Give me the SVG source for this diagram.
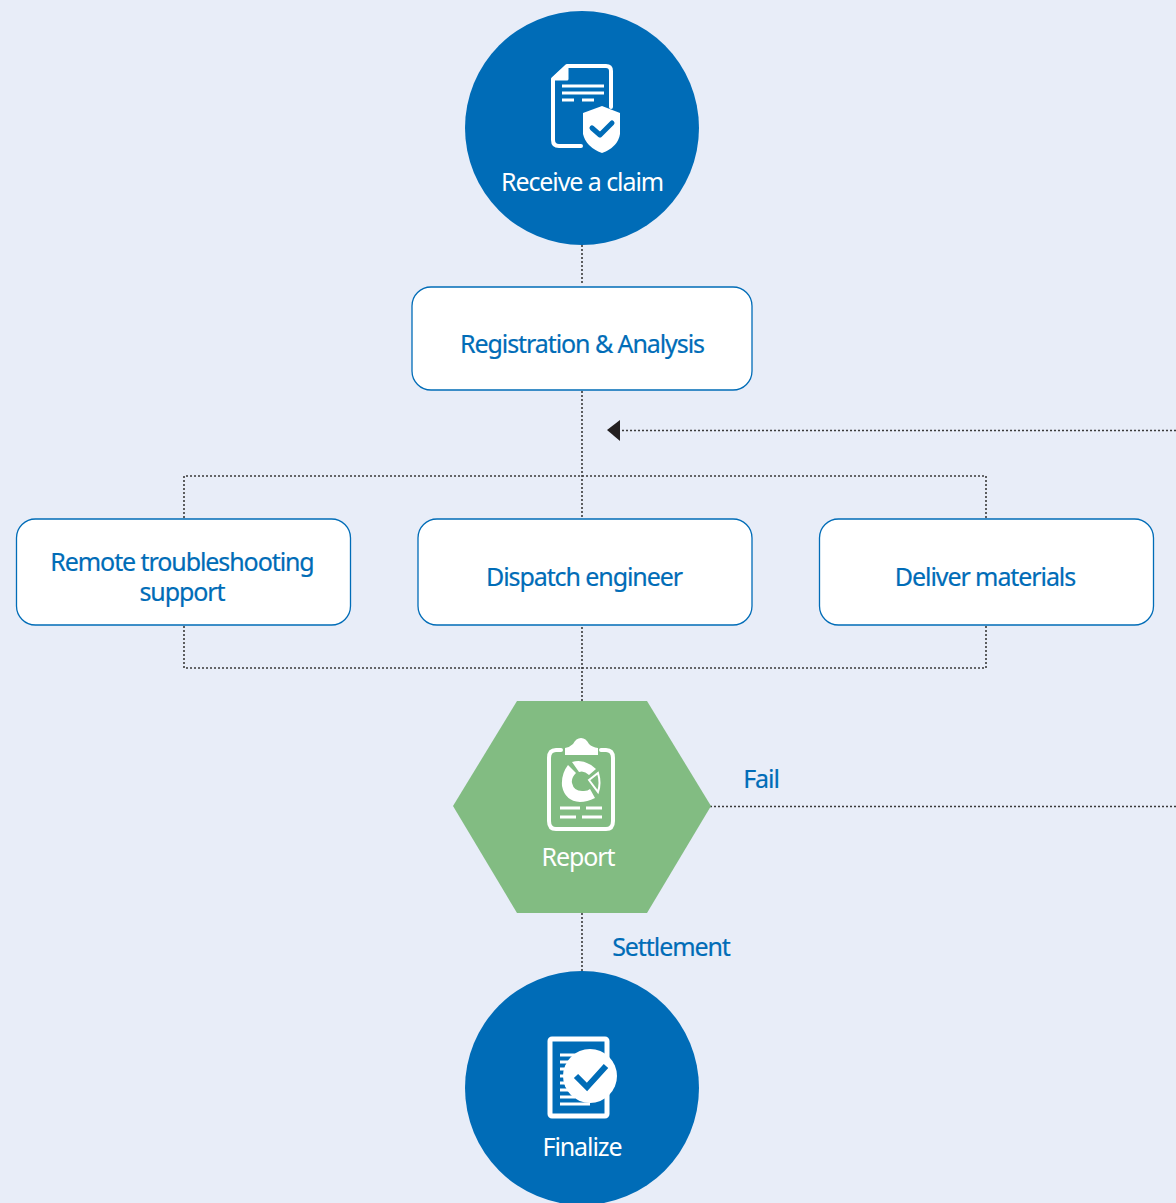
<svg xmlns="http://www.w3.org/2000/svg" width="1176" height="1203" viewBox="0 0 1176 1203">
<style>
.t{font-family:"Noto Sans","Open Sans",sans-serif;font-size:25px;letter-spacing:-1.08px;text-anchor:middle}
.b{fill:#006cb7;stroke:#006cb7;stroke-width:.2}.w{fill:#fff}
.box{fill:#fff;stroke:#006cb7;stroke-width:1.3}
.c{fill:none;stroke:#3a3a3a;stroke-width:1.6;stroke-dasharray:2 2}
.ic{fill:none;stroke:#fff;stroke-width:4;stroke-linecap:round;stroke-linejoin:round}
.il{fill:none;stroke:#fff;stroke-width:3}
</style>
<rect width="1176" height="1203" fill="#e8edf8"/>
<g id="connectors">
<path class="c" d="M582 245V285M582 391V701M184 518V476H986V518M184 626V668H986V626M582 913V972M710 806.500H1176M1176 430.500H620"/>
<path d="M620 420V441L607 430Z" fill="#231f20"/>
</g>
<g id="receive">
<circle cx="582" cy="128" r="117" fill="#006cb7"/>
<path class="ic" d="M581 146H559Q553 146 553 140V79L567 66H606Q611 66 611 71V107"/>
<path class="w" d="M553 79L567 66V79Z" stroke="#fff" stroke-width="3" stroke-linejoin="round"/>
<path class="il" d="M562 86H604M562 93H604M562 100H574M582 100H594"/>
<path class="w" d="M602 106L620 113V134Q618 147 602 153Q586 147 583 134V113Z"/>
<path d="M592 128L600 135L612 123" fill="none" stroke="#006cb7" stroke-width="5" stroke-linecap="round" stroke-linejoin="round"/>
<text class="t w" x="582" y="191">Receive a claim</text>
</g>
<g id="registration">
<rect class="box" x="412" y="287" width="340" height="103" rx="19"/>
<text class="t b" x="582" y="353">Registration &amp; Analysis</text>
</g>
<g id="remote">
<rect class="box" x="16.500" y="519" width="334" height="106" rx="19"/>
<text class="t b"><tspan x="182" y="571">Remote troubleshooting</tspan><tspan x="182" y="601">support</tspan></text>
</g>
<g id="dispatch">
<rect class="box" x="418" y="519" width="334" height="106" rx="19"/>
<text class="t b" x="584" y="586">Dispatch engineer</text>
</g>
<g id="deliver">
<rect class="box" x="819.500" y="519" width="334" height="106" rx="19"/>
<text class="t b" x="985" y="586">Deliver materials</text>
</g>
<g id="report">
<path d="M517 701H647L711 806L647 913H517L453 806Z" fill="#82bc82"/>
<path class="ic" d="M561 750H556Q549 750 549 758V821Q549 829 556 829H606Q613 829 613 821V758Q613 750 606 750H601"/>
<path class="w" d="M565 755V748Q570 747 573 744Q576 738 581 738Q586 738 589 744Q592 747 598 748V755Z"/>
<path class="w" fill-rule="evenodd" d="M568 765L576 773Q571 778 572 783Q574 792 584 791Q588 791 590 789L595 798Q587 802 580 802Q565 801 562 786Q561 774 568 765ZM572 762Q584 758 596 769L589 775Q584 770 579 772Z"/>
<path d="M589 780L598 773Q601 783 598 792Z" fill="none" stroke="#fff" stroke-width="2"/>
<path class="il" d="M560 808H580M586 808H602M560 817H576M582 817H602"/>
<text class="t w" x="578" y="866">Report</text>
</g>
<g id="finalize">
<circle cx="582" cy="1088" r="117" fill="#006cb7"/>
<rect x="550" y="1039" width="57" height="77" rx="2" fill="none" stroke="#fff" stroke-width="5"/>
<path class="il" d="M560 1055H590M560 1062H580M560 1069H572M560 1076H568M560 1083H568M560 1090H570M560 1097H575M560 1104H590"/>
<circle class="w" cx="590" cy="1076" r="27"/>
<path d="M576 1076L587 1087L606 1066" fill="none" stroke="#006cb7" stroke-width="6"/>
<text class="t w" x="582" y="1156">Finalize</text>
</g>
<g id="labels">
<text class="t b" x="761" y="788">Fail</text>
<text class="t b" x="671" y="956">Settlement</text>
</g>
</svg>
